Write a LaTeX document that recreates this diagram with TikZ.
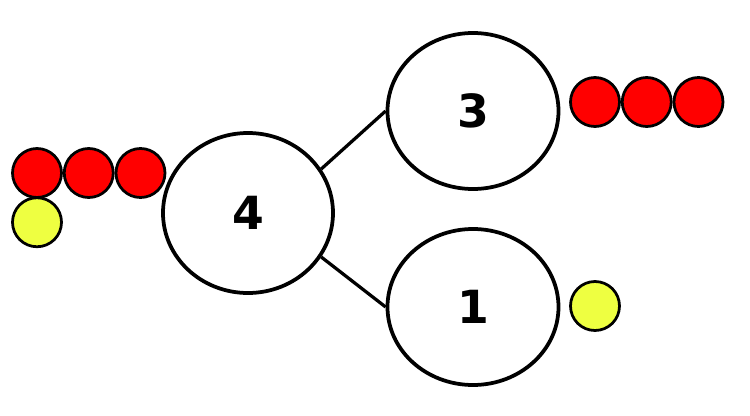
\documentclass[tikz,border=0pt]{standalone}
\usepackage{fontspec}
\setmainfont{DejaVu Sans}
\usetikzlibrary{shapes.geometric, positioning}
\definecolor{counterRed}{RGB}{255, 0, 0}
\definecolor{counterYellow}{RGB}{238, 255, 65}

\begin{document}
\begin{tikzpicture}[
        numNode/.style={ellipse, draw=black, fill=white, line width=0.075cm, minimum width=3.42cm, minimum height=3.12cm, inner sep=0pt, font=\fontsize{26}{30}\selectfont\bfseries},
        dotNode/.style={circle, draw=black, line width=0.055cm, minimum size=0.98cm, inner sep=0pt},
        redDot/.style={dotNode, fill=counterRed},
        yellowDot/.style={dotNode, fill=counterYellow}
    ]
        \useasboundingbox (0,0) rectangle (15,8.3);

        \node[numNode, minimum width=3.4cm, minimum height=3.2cm] (whole) at (4.96,4.04) {4};
        \node[numNode] (partA) at (9.46,6.08) {3};
        \node[numNode] (partB) at (9.46,2.16) {1};

        \draw[line width=0.065cm] (whole.31) -- (partA.west);
        \draw[line width=0.065cm] (whole.-31) -- (partB.west);

        % counters for the whole
        \node[redDot] (wholeRedA) at (0.74,4.84) {};
        \node[redDot, right=0pt of wholeRedA] (wholeRedB) {};
        \node[redDot, right=0pt of wholeRedB] (wholeRedC) {};
        \node[yellowDot, below=-0.05cm of wholeRedA] (wholeYellow) {};

        % counters for the parts
        \node[redDot] (partRedA) at (11.9,6.26) {};
        \node[redDot, right=0pt of partRedA] (partRedB) {};
        \node[redDot, right=0pt of partRedB] (partRedC) {};
        \node[yellowDot] (partYellow) at (11.9,2.18) {};
    \end{tikzpicture}
\end{document}
